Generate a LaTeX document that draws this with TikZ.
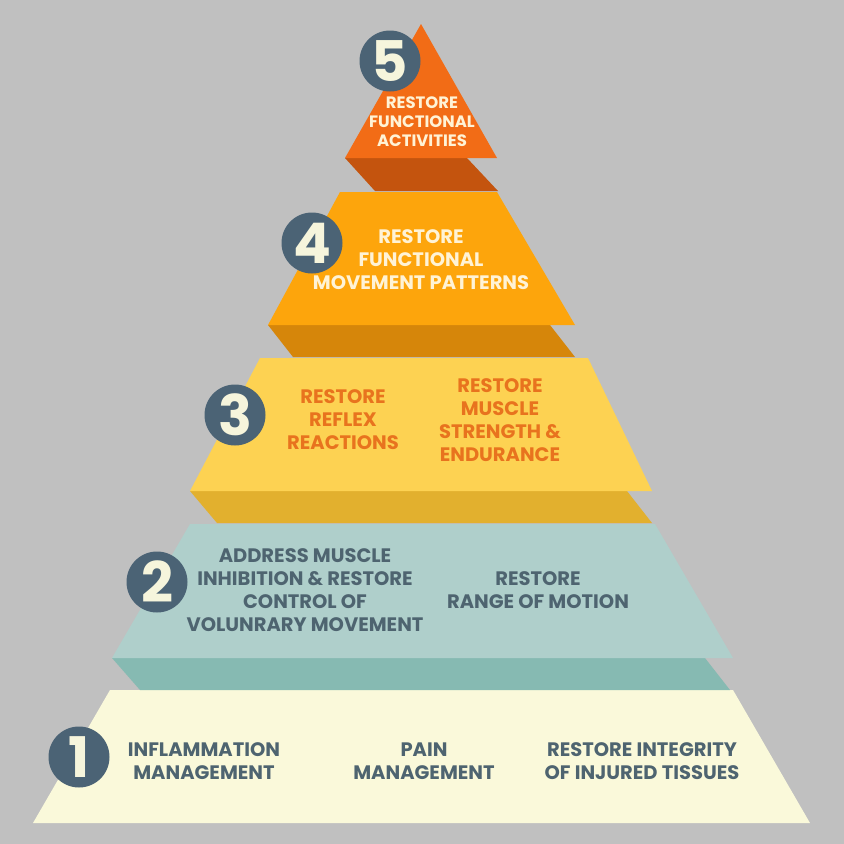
\documentclass[tikz,border=0pt]{standalone}
\usepackage{fontspec}
\setmainfont{Poppins}
\definecolor{bg}{RGB}{192,192,192}
\definecolor{Lfive}{RGB}{242,108,22}
\definecolor{Bfive}{RGB}{196,84,14}
\definecolor{Lfour}{RGB}{253,165,12}
\definecolor{Bfour}{RGB}{214,134,10}
\definecolor{Lthree}{RGB}{253,210,82}
\definecolor{Bthree}{RGB}{226,176,46}
\definecolor{Ltwo}{RGB}{175,207,203}
\definecolor{Btwo}{RGB}{134,186,178}
\definecolor{Lone}{RGB}{250,249,218}
\definecolor{disc}{RGB}{75,99,117}
\definecolor{cream}{RGB}{246,245,220}
\definecolor{warm}{RGB}{255,243,214}
\definecolor{orangetxt}{RGB}{232,115,30}
\definecolor{slate}{RGB}{78,100,112}
\tikzset{
  numdisc/.style={circle,fill=disc,minimum size=61pt,inner sep=0pt,text=cream,font=\fontsize{56}{56}\selectfont\bfseries},
  lbl/.style={align=center,inner sep=0pt,font=\fontsize{19.5}{23}\selectfont\bfseries},
  lblsmall/.style={align=center,inner sep=0pt,font=\fontsize{16.5}{19}\selectfont\bfseries},
}
\begin{document}
\begin{tikzpicture}[x=1pt,y=-1pt]
\useasboundingbox (0,0) rectangle (844,844);
\fill[bg] (0,0) rectangle (844,844);
% layer 1
\fill[Lone] (110,690) -- (733,690) -- (810,823) -- (33,823) -- cycle;
% layer 2
\fill[Btwo] (112,658) -- (705,658) -- (730,690) -- (140,690) -- cycle;
\fill[Ltwo] (190,524) -- (655,524) -- (733,658) -- (112,658) -- cycle;
% layer 3
\fill[Bthree] (190,491) -- (627,491) -- (652,523) -- (217,523) -- cycle;
\fill[Lthree] (260,358) -- (588,358) -- (652,491) -- (190,491) -- cycle;
% layer 4
\fill[Bfour] (268,325) -- (550,325) -- (575,357) -- (293,357) -- cycle;
\fill[Lfour] (340,192) -- (497,192) -- (575,325) -- (268,325) -- cycle;
% layer 5
\fill[Bfive] (345,158) -- (467,158) -- (498,191) -- (375,191) -- cycle;
\fill[Lfive] (421,24) -- (497,158) -- (345,158) -- cycle;
% discs
\node[numdisc] (c5) at (390,61) {5};
\node[numdisc] (c4) at (312,243) {4};
\node[numdisc] (c3) at (235,415) {3};
\node[numdisc] (c2) at (157,582) {2};
\node[numdisc] (c1) at (79,757) {1};
% texts
\node[lblsmall,text=warm] (t5) at (422,122) {RESTORE\\FUNCTIONAL\\ACTIVITIES};
\node[lbl,text=warm] (t4) at (421,260) {RESTORE\\FUNCTIONAL\\MOVEMENT PATTERNS};
\node[lbl,text=orangetxt] (t3a) at (343,420) {RESTORE\\REFLEX\\REACTIONS};
\node[lbl,text=orangetxt] (t3b) at (500,420) {RESTORE\\MUSCLE\\STRENGTH \&\\ENDURANCE};
\node[lbl,text=slate] (t2a) at (305,590) {ADDRESS MUSCLE\\INHIBITION \& RESTORE\\CONTROL OF\\VOLUNRARY MOVEMENT};
\node[lbl,text=slate] (t2b) at (538,590) {RESTORE\\RANGE OF MOTION};
\node[lbl,text=slate] (t1a) at (204,761) {INFLAMMATION\\MANAGEMENT};
\node[lbl,text=slate] (t1b) at (424,761) {PAIN\\MANAGEMENT};
\node[lbl,text=slate] (t1c) at (642,761) {RESTORE INTEGRITY\\OF INJURED TISSUES};
\end{tikzpicture}
\end{document}
